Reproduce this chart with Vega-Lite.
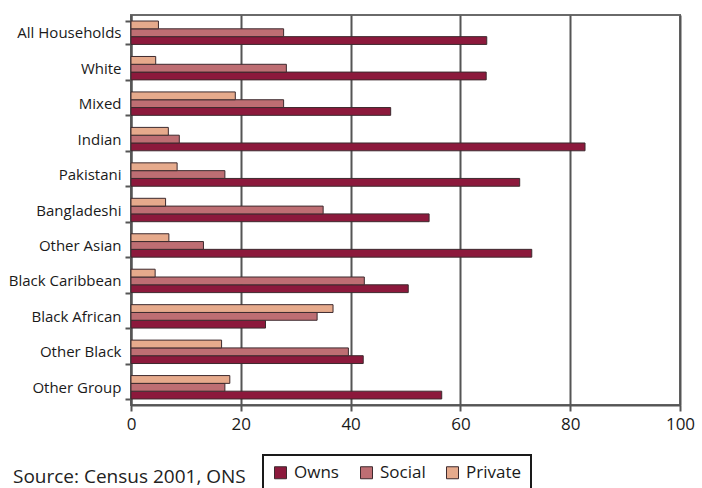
{
  "$schema": "https://vega.github.io/schema/vega-lite/v6.json",
  "width": 549,
  "height": 390,
  "autosize": {"type": "none"},
  "padding": {"left": 131, "top": 15, "right": 22, "bottom": 83},
  "background": "white",
  "title": {
    "text": "Source: Census 2001, ONS",
    "orient": "bottom",
    "anchor": "start",
    "frame": "group",
    "dx": -118,
    "dy": -23,
    "offset": 0,
    "font": "Open Sans",
    "fontSize": 19,
    "fontWeight": "normal",
    "color": "#222222"
  },
  "config": {
    "font": "Open Sans",
    "view": {"stroke": "#6a6a6a", "strokeWidth": 2},
    "axis": {
      "labelFont": "Open Sans",
      "labelColor": "#1a1a1a",
      "domainColor": "#555555",
      "domainWidth": 2,
      "tickColor": "#555555",
      "tickWidth": 2,
      "tickSize": 6,
      "title": null
    }
  },
  "data": {
    "values": [
      {"group": "All Households", "tenure": "Owns", "pct": 64.8},
      {"group": "All Households", "tenure": "Social", "pct": 27.8},
      {"group": "All Households", "tenure": "Private", "pct": 5.0},
      {"group": "White", "tenure": "Owns", "pct": 64.7},
      {"group": "White", "tenure": "Social", "pct": 28.3},
      {"group": "White", "tenure": "Private", "pct": 4.5},
      {"group": "Mixed", "tenure": "Owns", "pct": 47.3},
      {"group": "Mixed", "tenure": "Social", "pct": 27.8},
      {"group": "Mixed", "tenure": "Private", "pct": 19.0},
      {"group": "Indian", "tenure": "Owns", "pct": 82.7},
      {"group": "Indian", "tenure": "Social", "pct": 8.8},
      {"group": "Indian", "tenure": "Private", "pct": 6.8},
      {"group": "Pakistani", "tenure": "Owns", "pct": 70.8},
      {"group": "Pakistani", "tenure": "Social", "pct": 17.1},
      {"group": "Pakistani", "tenure": "Private", "pct": 8.4},
      {"group": "Bangladeshi", "tenure": "Owns", "pct": 54.3},
      {"group": "Bangladeshi", "tenure": "Social", "pct": 35.0},
      {"group": "Bangladeshi", "tenure": "Private", "pct": 6.3},
      {"group": "Other Asian", "tenure": "Owns", "pct": 73.0},
      {"group": "Other Asian", "tenure": "Social", "pct": 13.2},
      {"group": "Other Asian", "tenure": "Private", "pct": 6.9},
      {"group": "Black Caribbean", "tenure": "Owns", "pct": 50.5},
      {"group": "Black Caribbean", "tenure": "Social", "pct": 42.5},
      {"group": "Black Caribbean", "tenure": "Private", "pct": 4.4},
      {"group": "Black African", "tenure": "Owns", "pct": 24.5},
      {"group": "Black African", "tenure": "Social", "pct": 33.9},
      {"group": "Black African", "tenure": "Private", "pct": 36.8},
      {"group": "Other Black", "tenure": "Owns", "pct": 42.3},
      {"group": "Other Black", "tenure": "Social", "pct": 39.6},
      {"group": "Other Black", "tenure": "Private", "pct": 16.5},
      {"group": "Other Group", "tenure": "Owns", "pct": 56.6},
      {"group": "Other Group", "tenure": "Social", "pct": 17.1},
      {"group": "Other Group", "tenure": "Private", "pct": 18.0}
    ]
  },
  "mark": {"type": "bar", "stroke": "#3d2a2e", "strokeWidth": 1},
  "encoding": {
    "y": {
      "field": "group",
      "type": "nominal",
      "sort": null,
      "scale": {"paddingInner": 0.34, "paddingOuter": 0.17},
      "axis": {
        "labelFontSize": 15,
        "labelPadding": 4,
        "tickBand": "extent",
        "domain": true
      }
    },
    "yOffset": {
      "field": "tenure",
      "type": "nominal",
      "sort": ["Private", "Social", "Owns"],
      "scale": {"paddingInner": 0, "paddingOuter": 0}
    },
    "x": {
      "field": "pct",
      "type": "quantitative",
      "scale": {"domain": [0, 100], "nice": false},
      "axis": {
        "values": [0, 20, 40, 60, 80, 100],
        "labelFontSize": 17,
        "labelPadding": 5,
        "labelFlush": false,
        "grid": true,
        "gridColor": "#555555",
        "gridWidth": 2,
        "gridOpacity": 1
      }
    },
    "color": {
      "field": "tenure",
      "type": "nominal",
      "scale": {
        "domain": ["Owns", "Social", "Private"],
        "range": ["#8c193c", "#be6e73", "#e6aa8c"]
      },
      "legend": {
        "title": null,
        "orient": "none",
        "legendX": 132,
        "legendY": 440,
        "direction": "horizontal",
        "gridAlign": "all",
        "symbolType": "square",
        "symbolSize": 144,
        "symbolStrokeColor": "#3d2a2e",
        "symbolStrokeWidth": 1,
        "symbolOpacity": 1,
        "labelFontSize": 17,
        "labelFont": "Open Sans",
        "labelColor": "#1a1a1a",
        "labelOffset": 5,
        "columnPadding": 8,
        "padding": 9,
        "strokeColor": "#1a1a1a",
        "encode": {"legend": {"update": {"strokeWidth": {"value": 2}}}}
      }
    }
  }
}
